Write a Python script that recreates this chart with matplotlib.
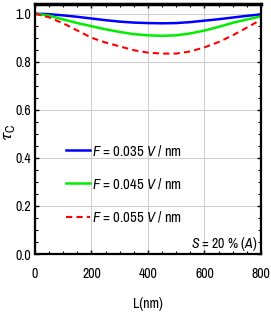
import numpy as np
import matplotlib
matplotlib.use('Agg')
import matplotlib.pyplot as plt
from matplotlib.ticker import MultipleLocator

plt.rcParams['font.family'] = ['Archivo Narrow', 'DejaVu Sans']
plt.rcParams['mathtext.fontset'] = 'custom'
plt.rcParams['mathtext.it'] = 'Archivo Narrow:italic'
plt.rcParams['mathtext.rm'] = 'Archivo Narrow'
plt.rcParams['mathtext.fallback'] = 'stixsans'

L = [0, 50, 100, 150, 200, 250, 300, 350, 400, 450, 500, 550, 600, 650, 700, 750, 800]
tau_035 = [1.0, 0.998, 0.993, 0.987, 0.980, 0.973, 0.967, 0.963, 0.961, 0.960, 0.961, 0.965, 0.971, 0.977, 0.984, 0.991, 0.997]
tau_045 = [1.0, 0.992, 0.976, 0.961, 0.948, 0.935, 0.924, 0.915, 0.910, 0.908, 0.910, 0.918, 0.930, 0.945, 0.962, 0.976, 0.989]
tau_055 = [1.0, 0.985, 0.960, 0.930, 0.900, 0.880, 0.864, 0.848, 0.838, 0.834, 0.834, 0.843, 0.860, 0.882, 0.910, 0.942, 0.975]
labels = [r'$F$ = 0.035 $V$ / nm', r'$F$ = 0.045 $V$ / nm', r'$F$ = 0.055 $V$ / nm']

fig = plt.figure(figsize=(2.71, 3.14), dpi=100)
ax = fig.add_axes([0.129, 0.191, 0.834, 0.796])

ax.plot(L, tau_035, color='#0000ff', lw=1.8, label=labels[0])
ax.plot(L, tau_045, color='#00ee00', lw=1.8, label=labels[1])
ax.plot(L, tau_055, color='#ff0000', lw=1.5, ls=(0, (3, 2)), label=labels[2])

ax.set_xlim(0, 800)
ax.set_ylim(0, 1.04)
ax.xaxis.set_major_locator(MultipleLocator(200))
ax.xaxis.set_minor_locator(MultipleLocator(50))
ax.yaxis.set_major_locator(MultipleLocator(0.2))
ax.yaxis.set_minor_locator(MultipleLocator(0.05))
ax.tick_params(which='both', direction='in', top=True, right=True, labelsize=10, pad=3)
ax.tick_params(axis='x', which='major', pad=9)
ax.tick_params(which='major', length=3, width=1)
ax.tick_params(which='minor', length=2, width=0.8)
ax.grid(True, which='major', color='#cccccc', lw=0.7)
ax.set_axisbelow(True)
for s in ['left', 'bottom', 'right']:
    ax.spines[s].set_linewidth(1.6)
ax.spines['top'].set_linewidth(2.5)

ax.set_xlabel('L(nm)', fontsize=10, labelpad=12)
fig.text(0.035, 0.58, r'$\tau_{\mathrm{C}}$', rotation=90, fontsize=13, ha='center', va='center')

ax.legend(loc='upper left', bbox_to_anchor=(0.107, 0.472), frameon=False, fontsize=10.5,
          handlelength=1.6, handletextpad=0.12, labelspacing=1.25, borderpad=0)
ax.text(0.985, 0.005, r'$S$ = 20 % ($A$)', transform=ax.transAxes, ha='right', va='bottom', fontsize=10)

fig.savefig('out.png', dpi=100)
